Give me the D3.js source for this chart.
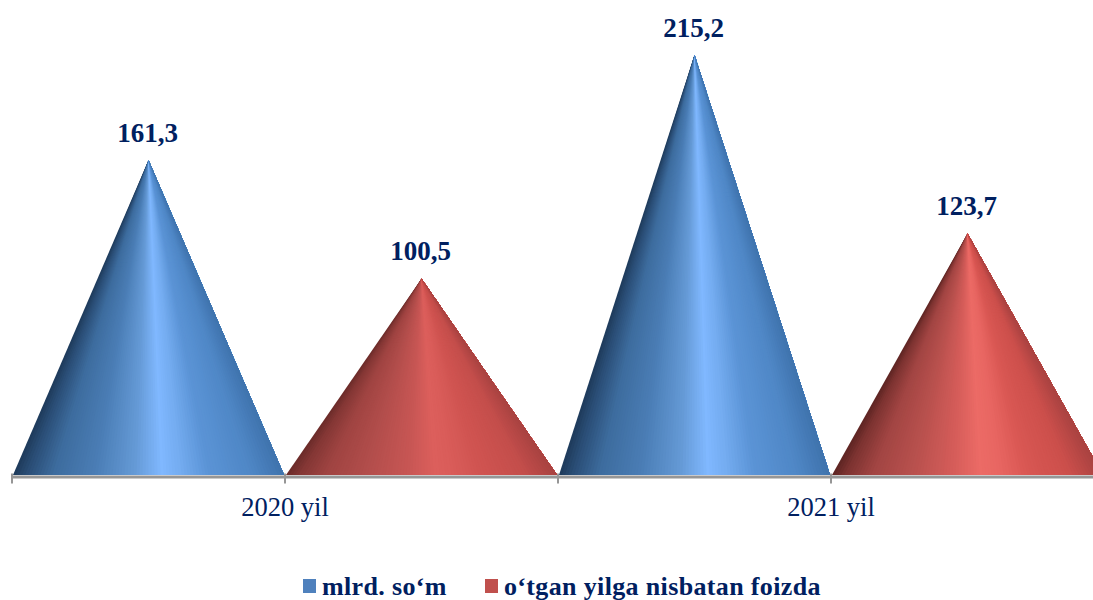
<!DOCTYPE html>
<html>
<head>
<meta charset="utf-8">
<script src="https://cdn.jsdelivr.net/npm/d3@7"></script>
<style>
    html, body { margin: 0; padding: 0; background: #fff; overflow: hidden; }
    svg { display: block; }
    text { font-family: "Liberation Serif", serif; fill: #002060; }
    .val { font-size: 27px; font-weight: bold; text-anchor: middle; }
    .legend-text { font-size: 26px; font-weight: bold; letter-spacing: 0.35px; }
</style>
</head>
<body>
<script>
const categories = ['2020 yil', '2021 yil'];
const seriesNames = ['mlrd. so‘m', 'o‘tgan yilga nisbatan foizda'];
const mlrd = [161.3, 215.2];
const foiz = [100.5, 123.7];
const valueLabels = ['161,3', '100,5', '215,2', '123,7'];

document.addEventListener("DOMContentLoaded", () => {

    const width = 1093;
    const height = 600;
    const baseY = 475;

    const svg = d3.select('body')
        .append('svg')
        .attr('width', width)
        .attr('height', height);

    // two levels on the x axis: year, then the series in it
    const x = d3.scaleBand().domain(categories).range([12, 1104]);
    const xInner = d3.scaleBand().domain(seriesNames).range([0, x.bandwidth()]);
    const y = d3.scaleLinear().domain([0, 215.2]).range([baseY, 55]);

    // shading across the cone, 0 = left edge, 1 = right edge
    const shadeStops = [0, 0.05, 0.15, 0.3, 0.45, 0.55, 0.62, 0.72, 0.88, 1];
    const blueShade = d3.scaleLinear()
        .domain(shadeStops)
        .range(['#1e3a5a', '#2a4d75', '#3d6c9e', '#4a7db5', '#659ad6', '#80b8ff', '#74acf0', '#5b94d6', '#4f87c6', '#3f73ad']);
    const redShade = d3.scaleLinear()
        .domain(shadeStops)
        .range(['#5c2422', '#7d3331', '#a24543', '#b9514e', '#d65d5a', '#ec6b66', '#e86662', '#d95753', '#cb4f4b', '#a84240']);
    // the 2020 red cone is duller than the 2021 one
    const redShadeDull = d3.scaleLinear()
        .domain(shadeStops)
        .range(['#6a2b29', '#843735', '#a04442', '#b34e4c', '#c75654', '#dc5f5c', '#d95c59', '#d05451', '#c44e4b', '#a84240']);

    const rows = [];
    categories.forEach((c, i) => {
        rows.push({ cat: c, s: 0, value: mlrd[i], shade: blueShade });
        rows.push({ cat: c, s: 1, value: foiz[i], shade: i === 0 ? redShadeDull : redShade });
    });

    const line = d3.line();
    const sliceCount = 90;
    const slices = d3.range(sliceCount);

    const cones = svg.append('g').selectAll('g')
        .data(rows)
        .enter()
        .append('g');

    // fan of triangles so the shading runs up to the tip. every slice reaches
    // the right edge and the next one paints over it, that way there are no seams
    cones.each(function (d) {
        const left = x(d.cat) + xInner(seriesNames[d.s]);
        const w = xInner.bandwidth();
        const tip = [left + w / 2, y(d.value)];
        d3.select(this).selectAll('path')
            .data(slices)
            .enter()
            .append('path')
            .attr('d', k => line([
                [left + 1 + (w - 2) * k / sliceCount, baseY],
                [left + w - 1, baseY],
                tip
            ]) + 'Z')
            .attr('fill', k => d.shade((k + 0.5) / sliceCount));
    });

    svg.selectAll('.val')
        .data(rows)
        .enter()
        .append('text')
        .attr('class', 'val')
        .attr('x', d => x(d.cat) + xInner(seriesNames[d.s]) + xInner.bandwidth() / 2 - 1)
        .attr('y', d => y(d.value) - 18.5)
        .text((d, i) => valueLabels[i]);

    // axis
    const axisG = svg.append('g').attr('transform', `translate(0,${baseY + 1.5})`);
    axisG.call(d3.axisBottom(x).tickSize(0).tickPadding(20.5));
    axisG.select('.domain').attr('stroke', '#969696').attr('stroke-width', 3);
    axisG.selectAll('.tick text')
        .style('font-size', '26.5px')
        .style('font-family', '"Liberation Serif", serif')
        .attr('fill', '#002060');

    const edges = [];
    categories.forEach(c => seriesNames.forEach(s => edges.push(x(c) + xInner(s))));
    axisG.selectAll('.edge')
        .data(edges)
        .enter()
        .append('line')
        .attr('class', 'edge')
        .attr('x1', d => d)
        .attr('x2', d => d)
        .attr('y1', -3)
        .attr('y2', 7)
        .attr('stroke', '#969696')
        .attr('stroke-width', 2);

    // legend
    const legendX = [303, 485];
    const swatchFill = ['#4f81bd', '#c0504d'];
    const legend = svg.selectAll('.legend')
        .data(seriesNames)
        .enter()
        .append('g')
        .attr('class', 'legend')
        .attr('transform', (d, i) => `translate(${legendX[i]},0)`);
    legend.append('rect')
        .attr('y', 579)
        .attr('width', 13)
        .attr('height', 14)
        .attr('fill', (d, i) => swatchFill[i]);
    legend.append('text')
        .attr('class', 'legend-text')
        .attr('x', 19)
        .attr('y', 594.5)
        .text(d => d);
});
</script>
</body>
</html>
